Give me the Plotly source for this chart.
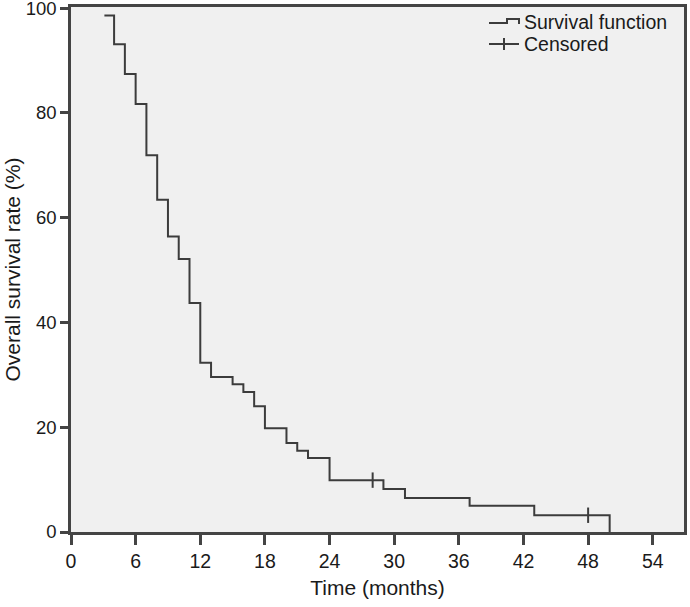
import plotly.graph_objects as go

# Kaplan-Meier step data (time in months, survival %)
event_times = [3.1, 4, 5, 6, 7, 8, 9, 10, 11, 12, 13, 15, 16, 17, 18, 20, 21, 22, 24, 29, 31, 37, 43, 50]
survival_pct = [98.6, 93.1, 87.4, 81.7, 71.9, 63.4, 56.4, 52.1, 43.7, 32.3, 29.6, 28.2, 26.7, 24.0,
                19.8, 17.0, 15.5, 14.1, 9.9, 8.2, 6.5, 5.0, 3.2, 0.0]
censor_times = [28, 48]
censor_pct = [9.9, 3.2]

x_ticks = [0, 6, 12, 18, 24, 30, 36, 42, 48, 54]
y_ticks = [0, 20, 40, 60, 80, 100]
legend_labels = ["Survival function", "Censored"]

LINE = "#3c3c3c"
FONT = "Liberation Sans, Arial, sans-serif"

W, H = 690, 607
ML, MR, MT, MB = 71, 6, 7, 75
PW, PH = W - ML - MR, H - MT - MB


def px(x):
    return (x - ML) / PW


def py(y):
    return 1 - (y - MT) / PH


fig = go.Figure()
fig.add_trace(go.Scatter(
    x=event_times, y=survival_pct, mode="lines", line_shape="hv",
    line=dict(color=LINE, width=2), name=legend_labels[0], showlegend=False,
))
fig.add_trace(go.Scatter(
    x=censor_times, y=censor_pct, mode="markers",
    marker=dict(symbol="line-ns", size=11, line=dict(color=LINE, width=2)),
    showlegend=False, name=legend_labels[1],
))

# hand-drawn legend (step icon + censor icon) inside the top-right corner
step_icon = (f"M {px(489)},{py(23)} L {px(507)},{py(23)} L {px(507)},{py(19)} "
             f"L {px(519)},{py(19)} L {px(519)},{py(24)}")
shapes = [
    dict(type="path", xref="paper", yref="paper", path=step_icon,
         line=dict(color=LINE, width=2)),
    dict(type="line", xref="paper", yref="paper", x0=px(489), x1=px(519),
         y0=py(44), y1=py(44), line=dict(color=LINE, width=2)),
    dict(type="line", xref="paper", yref="paper", x0=px(504), x1=px(504),
         y0=py(38), y1=py(50), line=dict(color=LINE, width=2)),
]
annotations = [
    dict(text=legend_labels[0], xref="paper", yref="paper", x=px(522), y=py(22),
         xanchor="left", yanchor="middle", showarrow=False, font=dict(size=19.5)),
    dict(text=legend_labels[1], xref="paper", yref="paper", x=px(522), y=py(44),
         xanchor="left", yanchor="middle", showarrow=False, font=dict(size=19.5)),
]

fig.update_layout(
    width=W, height=H,
    margin=dict(l=ML, r=MR, t=MT, b=MB),
    paper_bgcolor="white", plot_bgcolor="#f0f0f0",
    font=dict(family=FONT, size=19, color="#1a1a1a"),
    showlegend=False,
    shapes=shapes, annotations=annotations,
    xaxis=dict(
        range=[0, 56.9], tickvals=x_ticks, ticktext=[str(v) for v in x_ticks],
        showgrid=False, zeroline=False, showline=True, mirror=True,
        linecolor="#444444", linewidth=2.5, automargin=False,
        ticks="outside", ticklen=10, tickwidth=2.5, tickcolor="#444444",
        ticklabeloverflow="allow", tickfont=dict(size=19.5),
        title=dict(text="Time (months)", font=dict(size=21), standoff=10),
    ),
    yaxis=dict(
        range=[0, 100.2], tickvals=y_ticks, ticktext=[str(v) for v in y_ticks],
        showgrid=False, zeroline=False, showline=True, mirror=True,
        linecolor="#444444", linewidth=2.5, automargin=False,
        ticks="outside", ticklen=8, tickwidth=2.5, tickcolor="#444444",
        ticklabeloverflow="allow", tickfont=dict(size=18.5),
        title=dict(text="Overall survival rate (%)", font=dict(size=21), standoff=0),
    ),
)

fig.write_html("out.html", config={"displayModeBar": False},
               post_script="document.body.style.margin='0';")
